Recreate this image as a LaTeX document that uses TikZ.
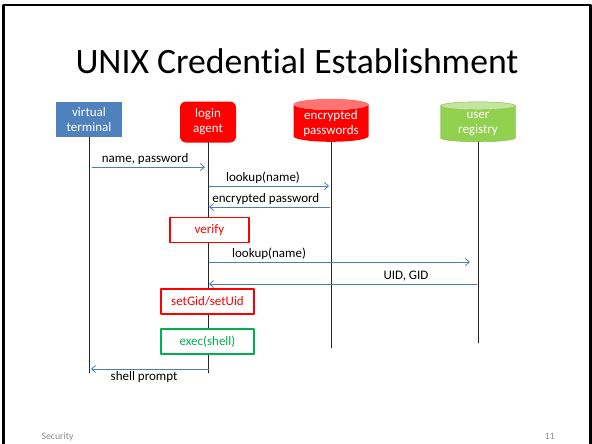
\documentclass[tikz,border=0pt]{standalone}
\usepackage{fontspec}
\setmainfont{Carlito}[Ligatures=NoCommon]
\usetikzlibrary{shapes.geometric,arrows.meta}
\definecolor{boxblue}{HTML}{4F81BD}
\definecolor{msgblue}{HTML}{4A7EBB}
\definecolor{regred}{HTML}{FF0000}
\definecolor{reggreen}{HTML}{92D050}
\definecolor{execgreen}{HTML}{00B050}
\begin{document}
\begin{tikzpicture}[x=1pt, y=-1pt, font=\fontsize{13}{15}\selectfont, line join=round, line cap=round,
		>={Straight Barb[length=4pt,width=7pt]},
		actor/.style={text=white, align=center, inner sep=0pt},
		store/.style={actor, cylinder, shape border rotate=90, aspect=0.2, minimum width=75, minimum height=40, cylinder uses custom fill, anchor=bottom},
		act/.style={draw=regred, text=regred, fill=white, line width=1.2pt, inner sep=0pt, minimum height=25},
		life/.style={draw=black!85, line width=0.9pt},
		msg/.style={->, draw=msgblue, line width=0.8pt},
		lbl/.style={text=black, inner sep=2pt}]
	\def\tend{373} \def\send{348} \def\rend{343} % ends of the lifelines
	\useasboundingbox (0,0) rectangle (592,444);
	\draw[line width=2.5pt] (3.5,444) -- (3.5,5) -- (590.5,5) -- (590.5,444);
	\node[anchor=base] (title) at (297,74) {\fontsize{35.7}{40}\selectfont UNIX Credential Establishment};
	
	\node[actor, fill=boxblue, minimum width=66, minimum height=35] (term) at (89,119.5) {virtual\\terminal};
	\node[actor, fill=regred, rounded corners=6pt, minimum width=56, minimum height=41] (agent) at (208,122) {login\\agent};
	\node[store, cylinder body fill=regred, cylinder end fill=regred!55] (pwd) at (331,142) {encrypted\\passwords};
	\node[store, draw=reggreen!90!black, cylinder body fill=reggreen, cylinder end fill=reggreen!55] (users) at (478,142) {user\\registry};
	
	\draw[life] (term.south) -- (term |- 0,\tend);
	\draw[life] (agent.south) -- (agent |- 0,\tend);
	\draw[life] (pwd.bottom) -- (pwd |- 0,\send);
	\draw[life] (users.bottom) -- (users |- 0,\rend);
	
	\draw[msg] ([xshift=3pt]term |- 0,167) -- node[lbl, above, pos=0.47] {name, password} ([xshift=-3pt]agent |- 0,167);
	\draw[msg] ([xshift=1pt]agent |- 0,186) -- node[lbl, above=0pt, pos=0.45] {lookup(name)} ([xshift=-2pt]pwd |- 0,186);
	\draw[msg] ([xshift=-1pt]pwd |- 0,207) -- node[lbl, above=0pt, pos=0.53] {encrypted password} ([xshift=1pt]agent |- 0,207);
	\node[act, minimum width=79] (verify) at (209.5,230) {verify};
	\draw[msg] ([xshift=1pt]agent |- 0,262) -- node[lbl, above=0pt, pos=0.23] {lookup(name)} ([xshift=-8pt]users |- 0,262);
	\draw[msg] ([xshift=-1pt]users |- 0,284) -- node[lbl, above, pos=0.265] {UID, GID} ([xshift=1pt]agent |- 0,284);
	\node[act, minimum width=93] (setid) at (207.5,301.5) {setGid/setUid};
	\node[act, draw=execgreen, text=execgreen, minimum width=93] (exec) at (207.5,341.5) {exec(shell)};
	\draw[msg] ([xshift=1pt]agent |- 0,369) -- node[lbl, below, pos=0.55] {shell prompt} ([xshift=2pt]term |- 0,369);
	
	\node[anchor=base west, text=black!45, font=\fontsize{9.8}{11}\selectfont] (footl) at (38,439) {Security};
	\node[anchor=base east, text=black!45, font=\fontsize{9.8}{11}\selectfont] (footr) at (558,439) {11};
\end{tikzpicture}
\end{document}
